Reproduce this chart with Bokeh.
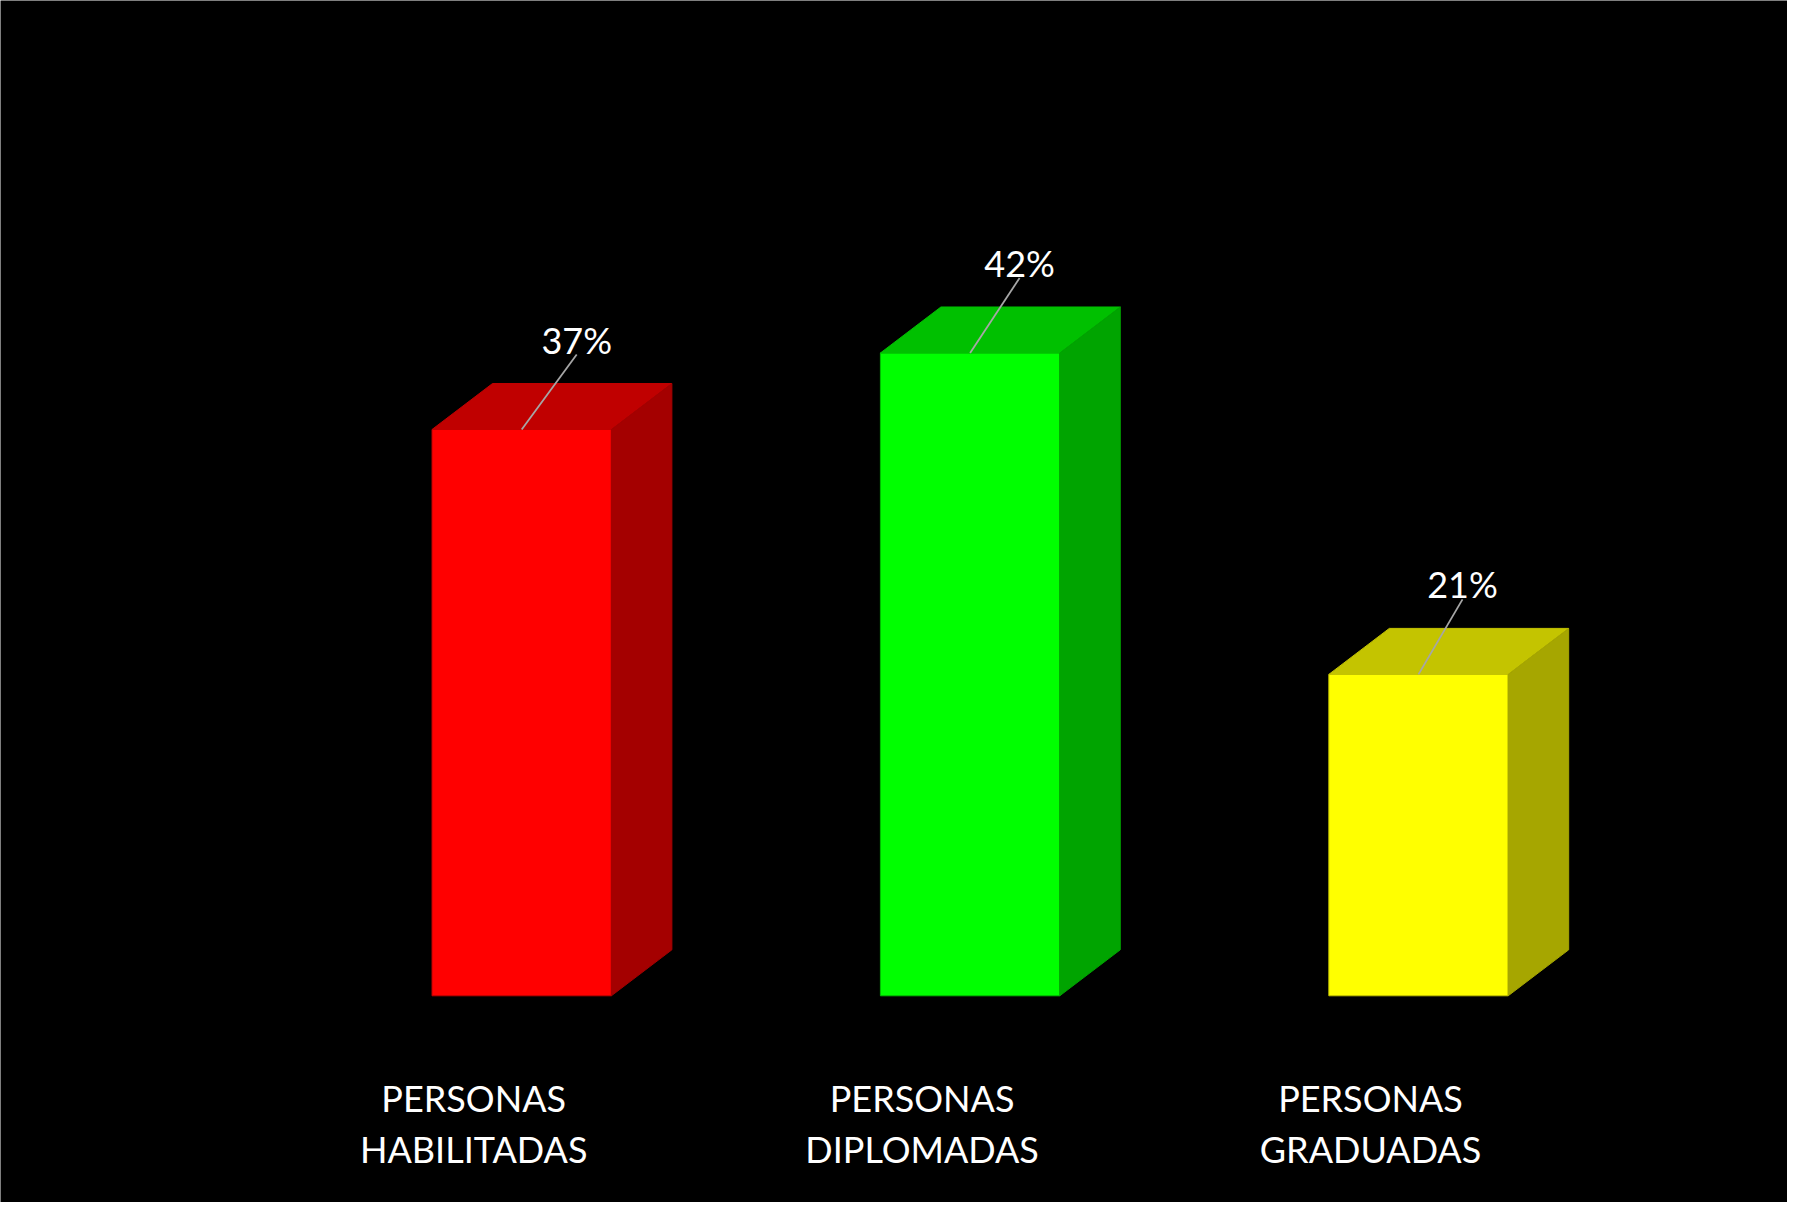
from bokeh.plotting import figure
from bokeh.models import Range1d, ColumnDataSource
from bokeh.core.properties import value
from bokeh.embed import file_html
from bokeh.resources import INLINE

# ---- data ----
categories = ["PERSONAS\nHABILITADAS", "PERSONAS\nDIPLOMADAS", "PERSONAS\nGRADUADAS"]
percent = [37, 42, 21]
value_labels = ["37%", "42%", "21%"]
front_colors = ["#FF0000", "#00FF00", "#FFFF00"]
top_colors = ["#C00000", "#00C000", "#C4C400"]
side_colors = ["#A40000", "#00A400", "#A6A600"]

# ---- layout (pixels -> data) ----
W, H = 1787, 1202
px_x = 448.4          # pixels per category step
px_y = 15.305         # pixels per percent
x0_px = 521.2         # first bar centre in figure pixels
y0_px = 995.3         # baseline in figure pixels (from top)

xmin = -x0_px / px_x
xmax = xmin + W / px_x
ymax = y0_px / px_y
ymin = -(H - y0_px) / px_y

half = 0.2            # half bar width (category units)
dx = 60.5 / px_x      # depth offset x
dy = 46.0 / px_y      # depth offset y

FONT = "Lato"

p = figure(width=W, height=H, output_backend="svg", toolbar_location=None,
           x_range=Range1d(xmin, xmax), y_range=Range1d(ymin, ymax),
           min_border=0, background_fill_color="black", border_fill_color="black")
p.axis.visible = False
p.grid.visible = False
p.outline_line_color = None

xs = list(range(len(percent)))

# front faces
src = ColumnDataSource(dict(
    left=[x - half for x in xs], right=[x + half for x in xs],
    top=percent, bottom=[0] * len(xs), color=front_colors, line=top_colors))
p.quad(left="left", right="right", top="top", bottom="bottom", source=src,
       fill_color="color", line_color="line", line_width=1)

# top faces
top_xs = [[x - half, x + half, x + half + dx, x - half + dx] for x in xs]
top_ys = [[v, v, v + dy, v + dy] for v in percent]
p.patches(top_xs, top_ys, fill_color=top_colors, line_color=top_colors, line_width=1)

# side faces
side_xs = [[x + half, x + half + dx, x + half + dx, x + half] for x in xs]
side_ys = [[0, dy, v + dy, v] for v in percent]
p.patches(side_xs, side_ys, fill_color=side_colors, line_color=side_colors, line_width=1)

# value labels with leader lines
lab_x = [x + (55 - 5.5 * x) / px_x for x in xs]
lead_len = 75 / px_y
text_off = 90 / px_y
p.segment(x0=xs, y0=percent, x1=lab_x, y1=[v + lead_len for v in percent],
          line_color="#A6A6A6", line_width=1.8)
p.text(x=lab_x, y=[v + text_off for v in percent], text=value_labels,
       text_color="white", text_font=value(FONT), text_font_size="36px",
       text_align="center", text_baseline="alphabetic")

# category labels (two lines)
cat_x = [x - 48 / px_x for x in xs]
line1 = [c.split("\n")[0] for c in categories]
line2 = [c.split("\n")[1] for c in categories]
y_line1 = (y0_px - 1097.7) / px_y
y_line2 = (y0_px - 1148.7) / px_y
p.text(x=cat_x, y=[y_line1] * len(xs), text=line1, text_color="white",
       text_font=value(FONT), text_font_size="36px", text_align="center",
       text_baseline="alphabetic")
p.text(x=cat_x, y=[y_line2] * len(xs), text=line2, text_color="white",
       text_font=value(FONT), text_font_size="36px", text_align="center",
       text_baseline="alphabetic")

open("out.html", "w").write(file_html(p, INLINE))
